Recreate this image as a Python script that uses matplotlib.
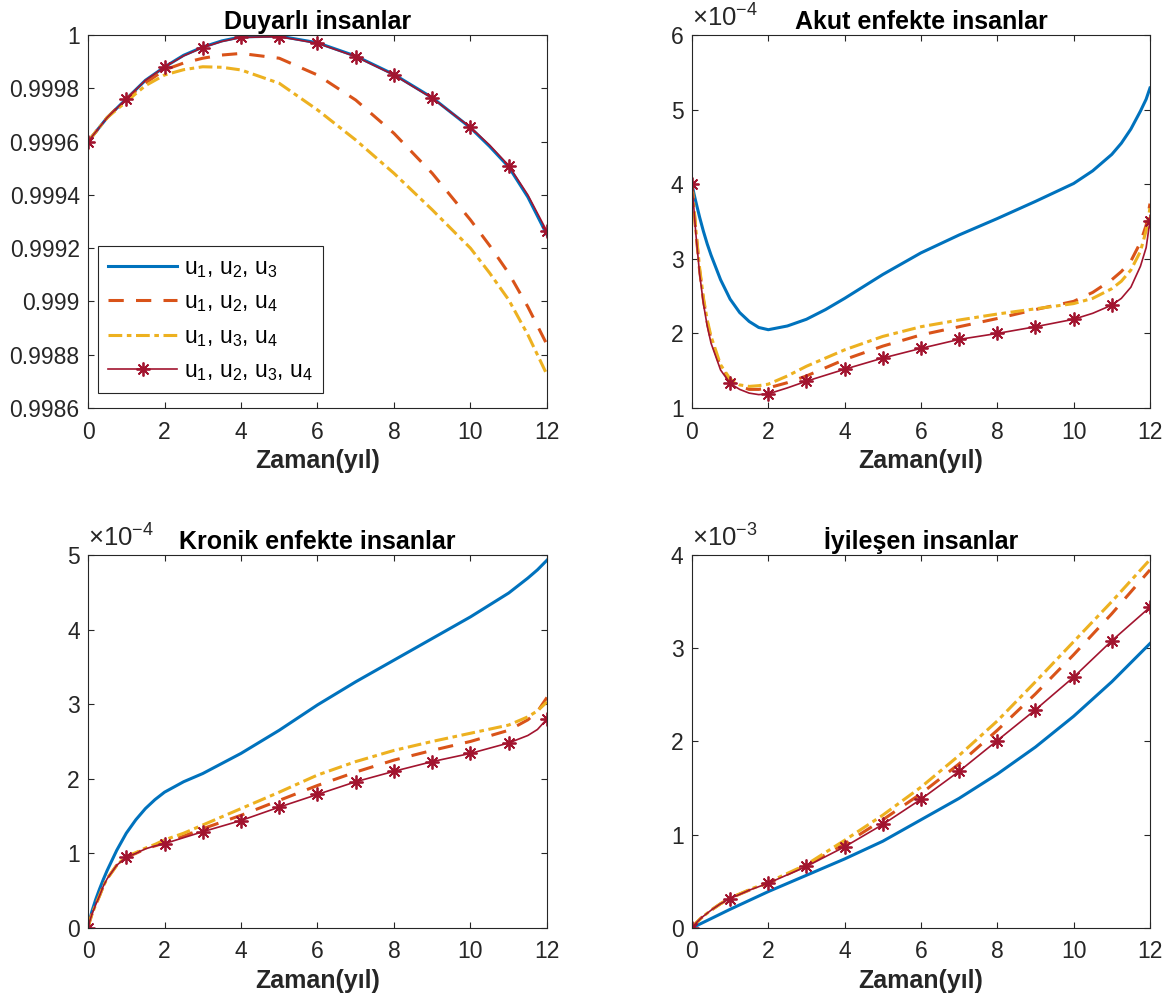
import matplotlib
matplotlib.use("Agg")
import matplotlib.pyplot as plt
from matplotlib.ticker import FuncFormatter, MultipleLocator

plt.rcParams['font.family'] = ['Liberation Sans', 'DejaVu Sans']
plt.rcParams['mathtext.fontset'] = 'custom'
plt.rcParams['mathtext.rm'] = 'Liberation Sans'
plt.rcParams['mathtext.it'] = 'Liberation Sans:italic'
plt.rcParams['mathtext.bf'] = 'Liberation Sans:bold'
plt.rcParams['mathtext.default'] = 'regular'

# MATLAB default colours
c_blue = '#0072BD'
c_orange = '#D95319'
c_yellow = '#EDB120'
c_red = '#A2142F'
c_axis = '#262626'

labels = [r'u$_1$, u$_2$, u$_3$', r'u$_1$, u$_2$, u$_4$',
          r'u$_1$, u$_3$, u$_4$', r'u$_1$, u$_2$, u$_3$, u$_4$']

# --- Duyarli insanlar ---
t_s = [0, 0.5, 1, 1.5, 2, 2.5, 3, 3.5, 4, 5, 6, 7, 8, 9, 10, 10.5, 11, 11.5, 12]
s_u123 = [0.99960, 0.99969, 0.99976, 0.99983, 0.99988, 0.999924, 0.999955, 0.999978, 0.999993,
          0.999996, 0.999971, 0.999921, 0.999852, 0.999765, 0.999652, 0.999582, 0.999505,
          0.999392, 0.999250]
s_u124 = [0.99960, 0.99969, 0.99976, 0.99982, 0.999869, 0.999895, 0.999913, 0.999925, 0.999931,
          0.999913, 0.999850, 0.999756, 0.999631, 0.999481, 0.999306, 0.999210, 0.999106,
          0.998980, 0.998838]
s_u134 = [0.99960, 0.99969, 0.99975, 0.99981, 0.999850, 0.999870, 0.999881, 0.999879, 0.999869,
          0.999819, 0.999719, 0.999606, 0.999481, 0.999344, 0.999200, 0.999107, 0.999006,
          0.998875, 0.998725]
s_u1234 = [0.99960, 0.99969, 0.99976, 0.99983, 0.99988, 0.999922, 0.999953, 0.999976, 0.999991,
           0.999994, 0.999969, 0.999919, 0.999850, 0.999763, 0.999654, 0.999587, 0.999510,
           0.999400, 0.999263]

# --- Akut enfekte insanlar (x 1e-4) ---
t_a = [0, 0.05, 0.1, 0.2, 0.3, 0.4, 0.5, 0.75, 1, 1.25, 1.5, 1.75, 2, 2.5, 3, 3.5, 4,
       5, 6, 7, 8, 9, 10, 10.5, 11, 11.25, 11.5, 11.75, 11.9, 12]
a_u123 = [4.0, 3.88, 3.77, 3.56, 3.37, 3.20, 3.05, 2.72, 2.46, 2.28, 2.16, 2.08, 2.05, 2.10,
          2.19, 2.32, 2.47, 2.79, 3.08, 3.32, 3.54, 3.77, 4.01, 4.18, 4.40, 4.55, 4.74, 4.98,
          5.14, 5.29]
a_u124 = [4.0, 3.70, 3.38, 2.85, 2.45, 2.15, 1.92, 1.55, 1.37, 1.29, 1.25, 1.25, 1.27, 1.34,
          1.43, 1.54, 1.65, 1.83, 1.98, 2.09, 2.20, 2.32, 2.43, 2.55, 2.72, 2.83, 2.97, 3.22,
          3.45, 3.74]
a_u134 = [4.0, 3.71, 3.40, 2.88, 2.48, 2.18, 1.96, 1.58, 1.39, 1.31, 1.29, 1.30, 1.32, 1.43,
          1.56, 1.67, 1.78, 1.96, 2.09, 2.18, 2.26, 2.33, 2.40, 2.47, 2.60, 2.70, 2.85, 3.10,
          3.38, 3.68]
a_u1234 = [4.0, 3.68, 3.35, 2.80, 2.40, 2.10, 1.87, 1.51, 1.33, 1.25, 1.20, 1.18, 1.19, 1.27,
           1.36, 1.44, 1.52, 1.67, 1.80, 1.92, 2.00, 2.09, 2.19, 2.27, 2.38, 2.47, 2.62, 2.90,
           3.15, 3.51]

# --- Kronik enfekte insanlar (x 1e-4) ---
t_k = [0, 0.05, 0.1, 0.2, 0.3, 0.4, 0.5, 0.75, 1, 1.25, 1.5, 1.75, 2, 2.5, 3, 4, 5, 6, 7, 8,
       9, 10, 11, 11.5, 11.75, 12]
k_u123 = [0, 0.12, 0.22, 0.38, 0.52, 0.65, 0.77, 1.04, 1.27, 1.45, 1.60, 1.72, 1.82, 1.96,
          2.07, 2.34, 2.65, 2.99, 3.30, 3.59, 3.88, 4.17, 4.49, 4.69, 4.80, 4.93]
k_u124 = [0, 0.10, 0.18, 0.31, 0.43, 0.56, 0.66, 0.84, 0.95, 1.00, 1.06, 1.10, 1.14, 1.23,
          1.33, 1.51, 1.71, 1.91, 2.09, 2.25, 2.38, 2.50, 2.65, 2.79, 2.90, 3.09]
k_u134 = [0, 0.10, 0.18, 0.31, 0.43, 0.56, 0.66, 0.84, 0.96, 1.01, 1.07, 1.12, 1.18, 1.27,
          1.38, 1.60, 1.82, 2.05, 2.23, 2.38, 2.50, 2.61, 2.72, 2.83, 2.91, 3.03]
k_u1234 = [0, 0.10, 0.18, 0.31, 0.43, 0.56, 0.66, 0.84, 0.95, 1.00, 1.06, 1.10, 1.13, 1.21,
           1.29, 1.44, 1.62, 1.79, 1.96, 2.10, 2.23, 2.34, 2.48, 2.58, 2.66, 2.80]

# --- Iyilesen insanlar (x 1e-3) ---
t_i = [0, 0.1, 0.25, 0.5, 0.75, 1, 1.5, 2, 3, 4, 5, 6, 7, 8, 9, 10, 11, 12]
i_u123 = [0, 0.02, 0.05, 0.10, 0.15, 0.20, 0.295, 0.39, 0.565, 0.74, 0.93, 1.16, 1.39, 1.65,
          1.94, 2.27, 2.64, 3.05]
i_u124 = [0, 0.05, 0.11, 0.19, 0.26, 0.32, 0.405, 0.48, 0.67, 0.90, 1.16, 1.44, 1.76, 2.12,
          2.51, 2.93, 3.37, 3.84]
i_u134 = [0, 0.05, 0.11, 0.19, 0.26, 0.32, 0.41, 0.49, 0.68, 0.94, 1.21, 1.51, 1.85, 2.22,
          2.64, 3.07, 3.50, 3.95]
i_u1234 = [0, 0.05, 0.11, 0.19, 0.26, 0.315, 0.405, 0.48, 0.66, 0.87, 1.11, 1.38, 1.68, 2.01,
           2.34, 2.69, 3.08, 3.44]

panels = [
    dict(title='Duyarlı insanlar', t=t_s, ys=[s_u123, s_u124, s_u134, s_u1234], scale=1.0,
         ylim=(0.9986, 1.0), step=0.0002, expo=None,
         pos=[0.0751, 0.5948, 0.3916, 0.3704]),
    dict(title='Akut enfekte insanlar', t=t_a, ys=[a_u123, a_u124, a_u134, a_u1234], scale=1e-4,
         ylim=(1, 6), step=1, expo='-4',
         pos=[0.5904, 0.5948, 0.3908, 0.3704]),
    dict(title='Kronik enfekte insanlar', t=t_k, ys=[k_u123, k_u124, k_u134, k_u1234], scale=1e-4,
         ylim=(0, 5), step=1, expo='-4',
         pos=[0.0751, 0.0785, 0.3916, 0.3704]),
    dict(title='İyileşen insanlar', t=t_i, ys=[i_u123, i_u124, i_u134, i_u1234], scale=1e-3,
         ylim=(0, 4), step=1, expo='-3',
         pos=[0.5904, 0.0785, 0.3908, 0.3704]),
]

fig = plt.figure(figsize=(11.72, 10.07), dpi=100)

for k, p in enumerate(panels):
    ax = fig.add_axes(p['pos'])
    t = p['t']
    sc = p['scale']
    y1, y2, y3, y4 = [[v * sc for v in y] for y in p['ys']]
    marks = [i for i, v in enumerate(t) if float(v).is_integer()]
    ax.plot(t, y1, color=c_blue, lw=2.2, label=labels[0])
    ax.plot(t, y2, color=c_orange, lw=2.2, ls=(0, (5, 4)), label=labels[1])
    ax.plot(t, y3, color=c_yellow, lw=2.2, ls=(0, (4.5, 1.5, 1.5, 1.5)), label=labels[2])
    ax.plot(t, y4, color=c_red, lw=1.2, marker=(8, 2, 0), ms=10, mew=1.3,
            markevery=marks, label=labels[3])

    ax.set_xlim(0, 12)
    ax.set_ylim(p['ylim'][0] * sc, p['ylim'][1] * sc)
    ax.xaxis.set_major_locator(MultipleLocator(2))
    ax.yaxis.set_major_locator(MultipleLocator(p['step'] * sc))
    ax.yaxis.set_major_formatter(FuncFormatter(lambda v, _, s=sc: '%g' % round(v / s, 6)))
    ax.tick_params(direction='in', top=True, right=True, length=4, width=0.8,
                   colors=c_axis, labelsize=16.5)
    ax.tick_params(axis='x', pad=9)
    ax.tick_params(axis='y', pad=6)
    for sp in ax.spines.values():
        sp.set_color(c_axis)
        sp.set_linewidth(0.8)

    ax.set_title(p['title'], fontsize=18, fontweight='bold', color='black', pad=4)
    ax.set_xlabel('Zaman(yıl)', fontsize=18, fontweight='bold', color=c_axis, labelpad=4)
    if p['expo']:
        ax.text(0.0, 1.008, '×10$^{%s}$' % p['expo'], transform=ax.transAxes,
                ha='left', va='bottom', fontsize=18.5, color=c_axis)

    if k == 0:
        leg = ax.legend(loc='lower left', bbox_to_anchor=(0.022, 0.04), borderaxespad=0,
                        fontsize=16.5, handlelength=3.0, labelspacing=0.45,
                        handletextpad=0.3, borderpad=0.45, fancybox=False,
                        framealpha=1, edgecolor=c_axis)
        leg.get_frame().set_linewidth(0.8)

fig.savefig('out.png', dpi=100)
